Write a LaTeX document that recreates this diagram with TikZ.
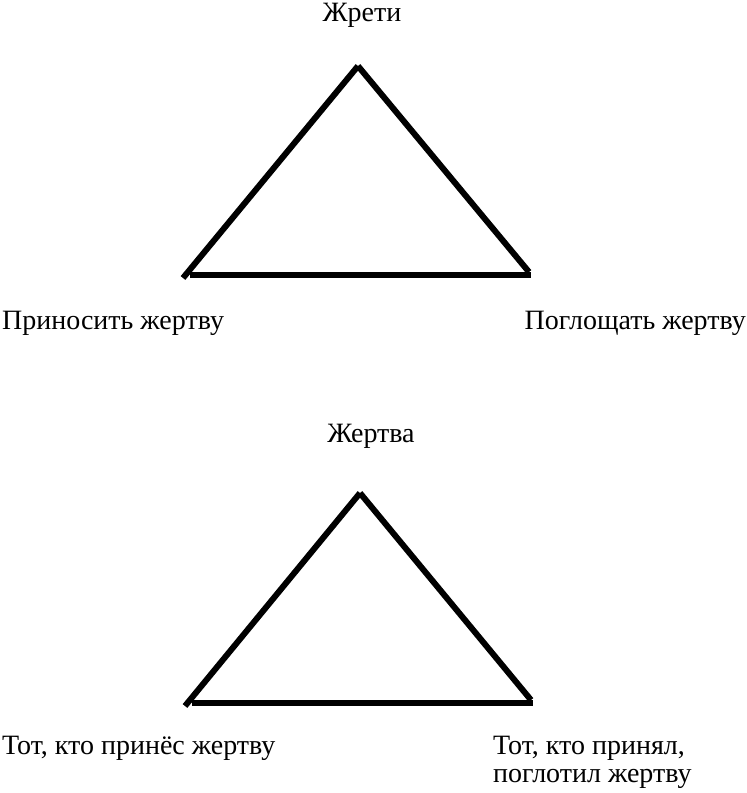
\documentclass[tikz,border=0pt]{standalone}
\usepackage{fontspec}
\setmainfont{Liberation Serif}
\tikzset{
  lbl/.style={inner sep=0pt, font=\fontsize{28}{28}\selectfont},
  side/.style={line width=6pt}
}
\begin{document}
\begin{tikzpicture}[x=1pt,y=-1pt]
  \useasboundingbox (0,0) rectangle (747,793);
  % upper triangle
  \coordinate (topA) at (358,66);
  \coordinate (leftA) at (183,278);
  \coordinate (baseLA) at (190,275);
  \coordinate (baseRA) at (531,275);
  \coordinate (rightA) at (529,272);
  \draw[side] (topA) -- (leftA);
  \draw[side] (baseLA) -- (baseRA);
  \draw[side] (topA) -- (rightA);
  \node[lbl, anchor=base] (zhreti) at (362,21) {Жрети};
  \node[lbl, anchor=base west] (prinosit) at (2,329) {Приносить жертву};
  \node[lbl, anchor=base east] (poglosh) at (746,329) {Поглощать жертву};
  % lower triangle
  \coordinate (topB) at (360,493);
  \coordinate (leftB) at (185,706);
  \coordinate (baseLB) at (192,703);
  \coordinate (baseRB) at (533,703);
  \coordinate (rightB) at (531,700);
  \draw[side] (topB) -- (leftB);
  \draw[side] (baseLB) -- (baseRB);
  \draw[side] (topB) -- (rightB);
  \node[lbl, anchor=base] (zhertva) at (371,442) {Жертва};
  \node[lbl, anchor=base west] (prines) at (2,754) {Тот, кто принёс жертву};
  \node[lbl, anchor=base west, align=left] (prinyal) at (493,782)
    {Тот, кто принял,\\поглотил жертву};
\end{tikzpicture}
\end{document}
